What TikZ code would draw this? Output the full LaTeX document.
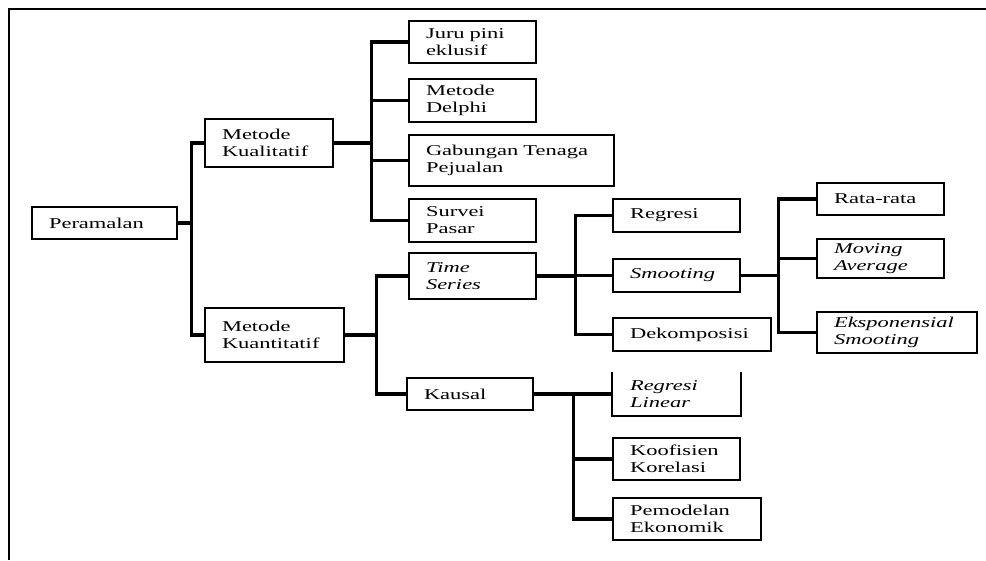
\documentclass[tikz,border=0pt]{standalone}
\usepackage{fontspec}
\setmainfont[FakeStretch=1.5]{Liberation Serif}
\begin{document}
\begin{tikzpicture}[x=1pt,y=-1pt,
  box/.style={draw, line width=2.4pt, inner xsep=17pt, inner ysep=0pt, align=left,
    font=\fontsize{15}{17}\selectfont},
  openbox/.style={box, draw=none},
  conn/.style={line width=3.2pt},
  frame/.style={line width=2pt}]
\useasboundingbox (0,0) rectangle (986,560);
\draw[frame] (9,560) -- (9,9) -- (986,9);

\node[box, minimum width=145pt, text width=111pt, minimum height=32pt] (per) at (104.5,223) {\mbox{Peramalan}};
\node[box, minimum width=128pt, text width=94pt, minimum height=48pt] (kual) at (269,143) {\mbox{Metode}\\\mbox{Kualitatif}};
\node[box, minimum width=139pt, text width=105pt, minimum height=54pt] (kuan) at (274.5,335) {\mbox{Metode}\\\mbox{Kuantitatif}};

\node[box, minimum width=127pt, text width=93pt, minimum height=42pt] (juru) at (472.5,42) {\mbox{Juru pini}\\\mbox{eklusif}};
\node[box, minimum width=127pt, text width=93pt, minimum height=43pt] (delphi) at (472.5,100.5) {\mbox{Metode}\\\mbox{Delphi}};
\node[box, minimum width=205pt, text width=171pt, minimum height=51pt] (gab) at (511.5,160.5) {\mbox{Gabungan Tenaga}\\\mbox{Pejualan}};
\node[box, minimum width=127pt, text width=93pt, minimum height=43pt] (survei) at (472.5,220.5) {\mbox{Survei}\\\mbox{Pasar}};
\node[box, minimum width=127pt, text width=93pt, minimum height=46pt] (ts) at (472.5,276) {\mbox{\itshape Time}\\\mbox{\itshape Series}};
\node[box, minimum width=126pt, text width=92pt, minimum height=32pt] (kausal) at (470,394) {\mbox{Kausal}};

\node[box, minimum width=127pt, text width=93pt, minimum height=33pt] (reg) at (676.5,215.5) {\mbox{Regresi}};
\node[box, minimum width=127pt, text width=93pt, minimum height=33pt] (smo) at (676.5,275.5) {\mbox{\itshape Smooting}};
\node[box, minimum width=158pt, text width=124pt, minimum height=33pt] (dek) at (692,334.5) {\mbox{Dekomposisi}};

\node[box, minimum width=127pt, text width=93pt, minimum height=32pt] (rata) at (880.5,199) {\mbox{Rata-rata}};
\node[box, minimum width=127pt, text width=93pt, minimum height=39pt] (mov) at (880.5,258.5) {\mbox{\itshape Moving}\\\mbox{\itshape Average}};
\node[box, minimum width=160pt, text width=126pt, minimum height=41pt] (eks) at (897,332.5) {\mbox{\itshape Eksponensial}\\\mbox{\itshape Smooting}};

\node[openbox, minimum width=127pt, text width=93pt, minimum height=42pt] (rl) at (676.5,394) {\mbox{\itshape Regresi}\\\mbox{\itshape Linear}};
\draw[line width=2.4pt] (rl.north west) -- (rl.south west) -- (rl.south east) -- (rl.north east);
\node[box, minimum width=127pt, text width=93pt, minimum height=42pt] (koof) at (676.5,459) {\mbox{Koofisien}\\\mbox{Korelasi}};
\node[box, minimum width=148pt, text width=114pt, minimum height=42pt] (pem) at (687,519) {\mbox{Pemodelan}\\\mbox{Ekonomik}};

% connectors
\draw[conn] (per.east) -- ++(13,0) |- (kual.west);
\draw[conn] (per.east) -- ++(13,0) |- (kuan.west);

\draw[conn] (kual.east) -- ++(37,0) |- (juru.west);
\draw[conn] (kual.east) -- ++(37,0) |- (delphi.west);
\draw[conn] (kual.east) -- ++(37,0) |- (gab.west);
\draw[conn] (kual.east) -- ++(37,0) |- (survei.west);

\draw[conn] (kuan.east) -- ++(31,0) |- (ts.west);
\draw[conn] (kuan.east) -- ++(31,0) |- (kausal.west);

\draw[conn] (ts.east) -- ++(38,0) |- (reg.west);
\draw[conn] (ts.east) -- ++(38,0) |- (smo.west);
\draw[conn] (ts.east) -- ++(38,0) |- (dek.west);

\draw[conn] (smo.east) -- ++(37,0) |- (rata.west);
\draw[conn] (smo.east) -- ++(37,0) |- (mov.west);
\draw[conn] (smo.east) -- ++(37,0) |- (eks.west);

\draw[conn] (kausal.east) -- ++(39,0) |- (rl.west);
\draw[conn] (kausal.east) -- ++(39,0) |- (koof.west);
\draw[conn] (kausal.east) -- ++(39,0) |- (pem.west);
\end{tikzpicture}
\end{document}
